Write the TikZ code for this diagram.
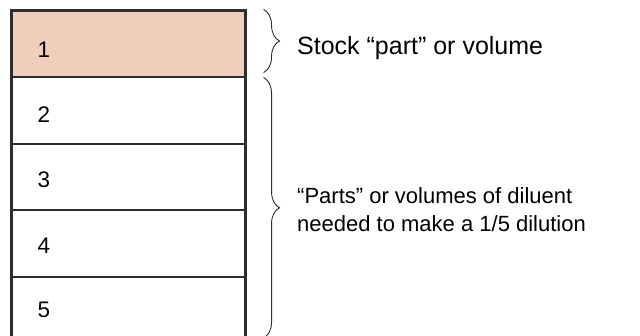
\documentclass[tikz,border=0pt]{standalone}
\usepackage{fontspec}
\setmainfont{Liberation Sans}
\usetikzlibrary{positioning,decorations.pathreplacing}

\definecolor{stockpeach}{RGB}{240,206,187}
\definecolor{linegray}{RGB}{45,45,45}

\begin{document}
\begin{tikzpicture}[x=1pt, y=1pt, node distance=0pt]
 \tikzset{
part/.style = {rectangle, draw=linegray, line width=1.1pt, minimum width=233pt, minimum height=65.5pt, inner sep=0pt},
num/.style = {anchor=base west, inner sep=0pt, font=\fontsize{22.5}{27}\selectfont},
note/.style = {anchor=base west, align=left, inner sep=0pt, font=\fontsize{22}{29}\selectfont},
brace/.style = {decorate, decoration={brace, amplitude=16pt}, draw=linegray, line width=0.9pt}}

\useasboundingbox (0,0) rectangle (640,335);

      % the five parts of the tube
      \node [part, fill=stockpeach] (P1) at (128.5,291.25) {};
      \node [part] (P2) [below=of P1] {};
      \node [part] (P3) [below=of P2] {};
      \node [part] (P4) [below=of P3] {};
      \node [part] (P5) [below=of P4] {};
      \draw [line width=2.6pt, draw=linegray] (P1.north west) rectangle (P5.south east);

      \node [num] (N1) at ([xshift=26pt,yshift=-14pt]P1.west) {1};
      \node [num] (N2) at ([xshift=26pt,yshift=-12.5pt]P2.west) {2};
      \node [num] (N3) at ([xshift=26pt,yshift=-11pt]P3.west) {3};
      \node [num] (N4) at ([xshift=26pt,yshift=-9.5pt]P4.west) {4};
      \node [num] (N5) at ([xshift=26pt,yshift=-7.5pt]P5.west) {5};

      \coordinate (B1) at ([xshift=18pt,yshift=1pt]P1.north east);
      \coordinate (B2) at ([xshift=18pt,yshift=4.5pt]P1.south east);
      \coordinate (B3) at ([xshift=18pt,yshift=-0.5pt]P2.north east);
      \coordinate (B4) at ([xshift=18pt,yshift=5.5pt]P5.south east);

      \draw [brace] (B1) -- (B2);
      \draw [brace] (B3) -- (B4);

      \node [note, font=\fontsize{25}{29}\selectfont] (Stock) at (297,280) {Stock “part” or volume};
      % base of a two-line node is the last line's baseline
      \node [note] (Diluent) at (297,103) {“Parts” or volumes of diluent\\needed to make a 1/5 dilution};

  \end{tikzpicture}
\end{document}
